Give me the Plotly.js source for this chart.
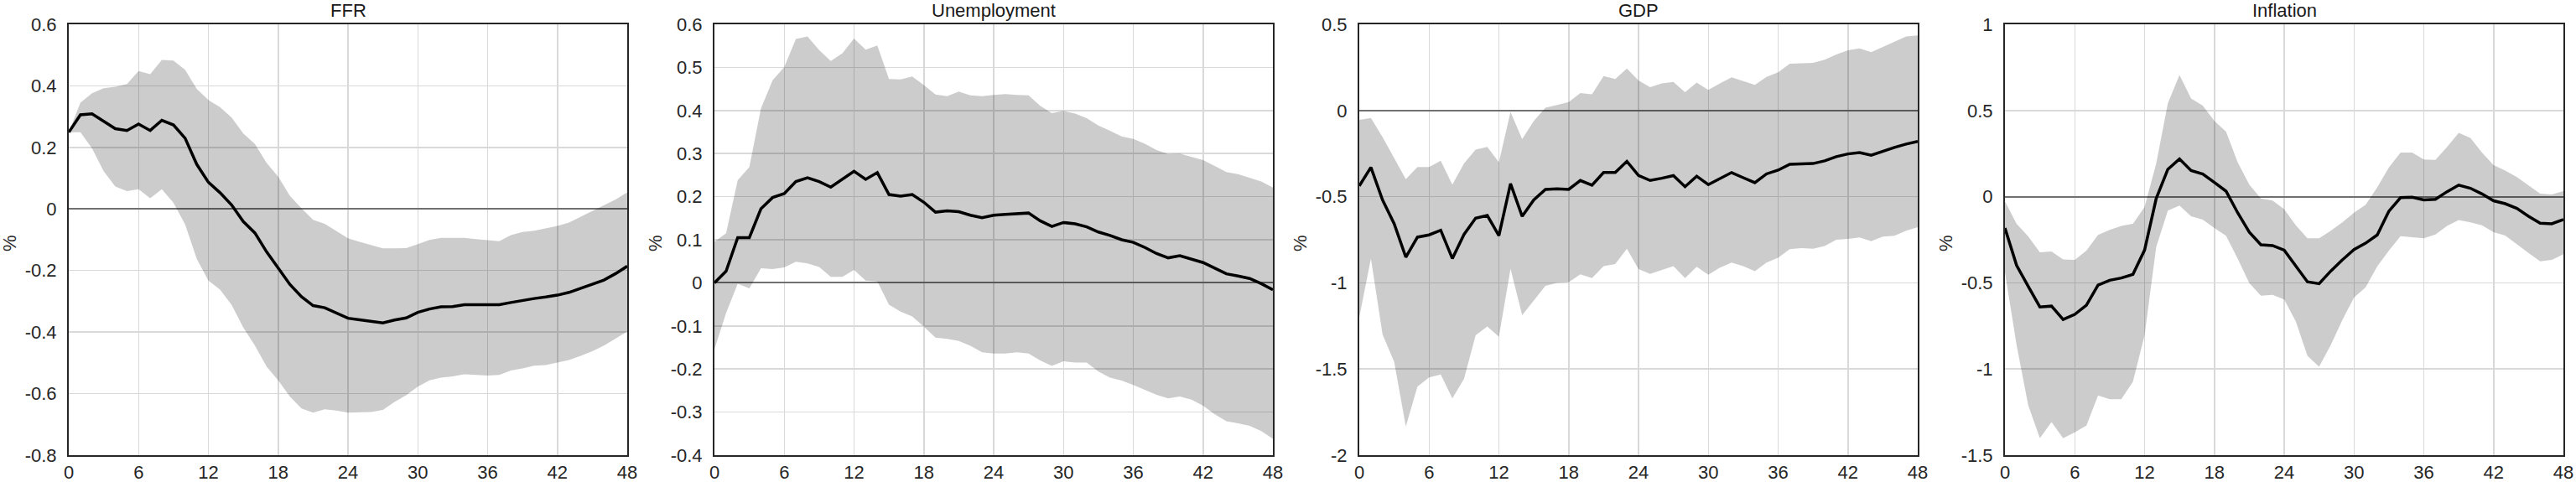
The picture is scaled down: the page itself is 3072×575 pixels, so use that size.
<!DOCTYPE html>
<html>
<head>
<meta charset="utf-8">
<script src="https://cdn.plot.ly/plotly-3.0.1.min.js"></script>
<style>html,body{margin:0;padding:0;background:#fff;}#chart{width:3072px;height:575px;}</style>
</head>
<body>
<div id="chart"></div>
<script>
// Horizon (months)
const months = Array.from({length: 49}, (_, i) => i);
const xTickVals = [0, 6, 12, 18, 24, 30, 36, 42, 48];
const xTickText = ["0", "6", "12", "18", "24", "30", "36", "42", "48"];

const panelTitles = ["FFR", "Unemployment", "GDP", "Inflation"];
const yLabel = "%";

// FFR
const ffrMean = [0.249,0.306,0.309,0.285,0.261,0.255,0.276,0.255,0.288,0.273,0.230,0.145,0.087,0.053,0.013,-0.041,-0.078,-0.139,-0.194,-0.245,-0.285,-0.314,-0.321,-0.339,-0.355,-0.360,-0.365,-0.370,-0.361,-0.354,-0.336,-0.325,-0.318,-0.317,-0.311,-0.311,-0.312,-0.311,-0.304,-0.297,-0.291,-0.286,-0.280,-0.271,-0.258,-0.246,-0.231,-0.210,-0.186];
const ffrUpper = [0.249,0.345,0.376,0.392,0.397,0.406,0.448,0.438,0.484,0.482,0.452,0.390,0.354,0.331,0.297,0.245,0.211,0.150,0.105,0.043,0.002,-0.035,-0.048,-0.071,-0.095,-0.107,-0.117,-0.128,-0.128,-0.127,-0.114,-0.101,-0.094,-0.094,-0.094,-0.098,-0.101,-0.105,-0.085,-0.075,-0.071,-0.064,-0.055,-0.044,-0.025,-0.007,0.013,0.031,0.054];
const ffrLower = [0.249,0.249,0.197,0.123,0.073,0.058,0.064,0.035,0.064,0.020,-0.050,-0.162,-0.233,-0.262,-0.312,-0.385,-0.444,-0.512,-0.557,-0.609,-0.648,-0.662,-0.651,-0.655,-0.662,-0.662,-0.660,-0.653,-0.627,-0.605,-0.577,-0.557,-0.548,-0.544,-0.537,-0.539,-0.541,-0.539,-0.525,-0.518,-0.509,-0.507,-0.500,-0.491,-0.477,-0.462,-0.444,-0.421,-0.398];

// Unemployment
const unMean = [0.000,0.027,0.105,0.105,0.172,0.198,0.207,0.235,0.244,0.235,0.222,0.240,0.259,0.240,0.256,0.205,0.201,0.205,0.187,0.164,0.167,0.165,0.157,0.151,0.157,0.159,0.161,0.162,0.144,0.131,0.140,0.137,0.130,0.118,0.110,0.100,0.094,0.082,0.068,0.058,0.063,0.055,0.047,0.034,0.021,0.016,0.010,-0.002,-0.016];
const unUpper = [0.095,0.115,0.238,0.269,0.405,0.470,0.501,0.566,0.572,0.540,0.515,0.533,0.567,0.541,0.551,0.473,0.472,0.479,0.459,0.437,0.433,0.444,0.435,0.433,0.436,0.438,0.436,0.435,0.411,0.394,0.399,0.393,0.382,0.365,0.353,0.340,0.334,0.323,0.308,0.299,0.300,0.293,0.285,0.271,0.257,0.252,0.244,0.235,0.221];
const unLower = [-0.154,-0.070,-0.002,-0.013,0.034,0.032,0.036,0.049,0.045,0.037,0.014,0.014,0.030,0.005,0.003,-0.051,-0.067,-0.078,-0.102,-0.127,-0.130,-0.135,-0.146,-0.161,-0.164,-0.164,-0.161,-0.164,-0.180,-0.193,-0.182,-0.185,-0.185,-0.206,-0.220,-0.227,-0.237,-0.248,-0.260,-0.268,-0.264,-0.271,-0.285,-0.305,-0.321,-0.326,-0.332,-0.344,-0.362];

// GDP
const gdpMean = [-0.438,-0.330,-0.519,-0.657,-0.851,-0.735,-0.722,-0.695,-0.859,-0.719,-0.625,-0.609,-0.726,-0.425,-0.614,-0.519,-0.458,-0.455,-0.458,-0.406,-0.433,-0.360,-0.360,-0.295,-0.377,-0.406,-0.393,-0.378,-0.442,-0.381,-0.430,-0.393,-0.360,-0.390,-0.419,-0.368,-0.346,-0.312,-0.308,-0.308,-0.292,-0.268,-0.252,-0.244,-0.260,-0.235,-0.214,-0.195,-0.179];
const gdpUpper = [-0.054,-0.044,-0.154,-0.273,-0.398,-0.328,-0.328,-0.292,-0.430,-0.308,-0.227,-0.211,-0.300,-0.008,-0.166,-0.060,0.016,0.032,0.049,0.101,0.094,0.200,0.183,0.244,0.174,0.135,0.157,0.166,0.106,0.162,0.119,0.157,0.192,0.170,0.149,0.195,0.222,0.271,0.273,0.276,0.295,0.325,0.349,0.360,0.338,0.369,0.398,0.430,0.435];
const gdpLower = [-1.200,-0.859,-1.300,-1.459,-1.833,-1.602,-1.549,-1.532,-1.670,-1.557,-1.305,-1.253,-1.313,-0.919,-1.188,-1.102,-1.018,-1.000,-0.997,-0.951,-0.972,-0.903,-0.891,-0.802,-0.920,-0.948,-0.924,-0.903,-0.972,-0.907,-0.953,-0.912,-0.883,-0.903,-0.932,-0.883,-0.854,-0.805,-0.799,-0.802,-0.786,-0.750,-0.745,-0.737,-0.758,-0.732,-0.727,-0.698,-0.677];

// Inflation
const infMean = [-0.182,-0.399,-0.521,-0.640,-0.635,-0.713,-0.683,-0.630,-0.513,-0.485,-0.472,-0.451,-0.310,-0.011,0.159,0.219,0.151,0.131,0.083,0.032,-0.093,-0.206,-0.279,-0.284,-0.310,-0.399,-0.494,-0.505,-0.432,-0.367,-0.307,-0.270,-0.222,-0.084,-0.006,-0.003,-0.019,-0.015,0.029,0.067,0.049,0.016,-0.024,-0.041,-0.068,-0.114,-0.154,-0.157,-0.133];
const infUpper = [-0.028,-0.157,-0.230,-0.323,-0.318,-0.364,-0.367,-0.313,-0.222,-0.193,-0.170,-0.157,-0.060,0.192,0.541,0.706,0.570,0.528,0.440,0.378,0.200,0.070,-0.011,-0.023,-0.073,-0.166,-0.242,-0.242,-0.198,-0.149,-0.093,-0.047,0.054,0.170,0.256,0.256,0.216,0.213,0.289,0.370,0.341,0.256,0.183,0.151,0.114,0.067,0.018,0.013,0.032];
const infLower = [-0.440,-0.862,-1.211,-1.401,-1.308,-1.401,-1.368,-1.328,-1.154,-1.175,-1.175,-1.073,-0.805,-0.292,-0.081,-0.052,-0.114,-0.133,-0.182,-0.227,-0.359,-0.502,-0.575,-0.570,-0.597,-0.724,-0.924,-0.987,-0.862,-0.716,-0.586,-0.526,-0.404,-0.313,-0.229,-0.235,-0.242,-0.219,-0.170,-0.136,-0.149,-0.166,-0.206,-0.226,-0.278,-0.326,-0.375,-0.367,-0.334];

// Y axis ticks
const ffrTickVals = [-0.8,-0.6,-0.4,-0.2,0,0.2,0.4,0.6];
const ffrTickText = ["-0.8","-0.6","-0.4","-0.2","0","0.2","0.4","0.6"];
const unTickVals = [-0.4,-0.3,-0.2,-0.1,0,0.1,0.2,0.3,0.4,0.5,0.6];
const unTickText = ["-0.4","-0.3","-0.2","-0.1","0","0.1","0.2","0.3","0.4","0.5","0.6"];
const gdpTickVals = [-2,-1.5,-1,-0.5,0,0.5];
const gdpTickText = ["-2","-1.5","-1","-0.5","0","0.5"];
const infTickVals = [-1.5,-1,-0.5,0,0.5,1];
const infTickText = ["-1.5","-1","-0.5","0","0.5","1"];

const panels = [
  {mean: ffrMean, upper: ffrUpper, lower: ffrLower, tv: ffrTickVals, tt: ffrTickText},
  {mean: unMean, upper: unUpper, lower: unLower, tv: unTickVals, tt: unTickText},
  {mean: gdpMean, upper: gdpUpper, lower: gdpLower, tv: gdpTickVals, tt: gdpTickText},
  {mean: infMean, upper: infUpper, lower: infLower, tv: infTickVals, tt: infTickText}
];

const W = 3072, H = 575;
const plotLefts = [82, 852, 1621, 2391];
const plotWidth = 666;
const plotTop = 29, plotBottom = 543;

const FONT = "Liberation Sans, Arial, sans-serif";
const traces = [];
const layout = {
  width: W, height: H,
  margin: {l: 0, r: 0, t: 0, b: 0, pad: 0},
  paper_bgcolor: "#ffffff",
  plot_bgcolor: "#ffffff",
  showlegend: false,
  hovermode: false,
  font: {family: FONT, size: 22, color: "#262626"},
  annotations: []
};

panels.forEach((p, i) => {
  const n = i + 1;
  const xa = n === 1 ? "x" : "x" + n;
  const ya = n === 1 ? "y" : "y" + n;
  traces.push({x: months, y: p.lower, xaxis: xa, yaxis: ya, type: "scatter", mode: "lines",
    line: {width: 0, color: "rgba(0,0,0,0)"}, hoverinfo: "skip"});
  traces.push({x: months, y: p.upper, xaxis: xa, yaxis: ya, type: "scatter", mode: "lines",
    fill: "tonexty", fillcolor: "rgba(0,0,0,0.2)", line: {width: 0, color: "rgba(0,0,0,0)"}, hoverinfo: "skip"});
  traces.push({x: months, y: p.mean, xaxis: xa, yaxis: ya, type: "scatter", mode: "lines",
    line: {width: 3.5, color: "#000000"}, hoverinfo: "skip"});

  const x0 = plotLefts[i] / W, x1 = (plotLefts[i] + plotWidth) / W;
  const xKey = n === 1 ? "xaxis" : "xaxis" + n;
  const yKey = n === 1 ? "yaxis" : "yaxis" + n;
  layout[xKey] = {
    domain: [x0, x1], anchor: ya, range: [0, 48],
    tickmode: "array", tickvals: xTickVals, ticktext: xTickText,
    showgrid: true, gridcolor: "#d9d9d9", gridwidth: 1.5,
    zeroline: false, showline: true, mirror: true, linecolor: "#262626", linewidth: 2,
    ticks: "", ticklabelstandoff: 0,
    tickfont: {family: FONT, size: 22, color: "#262626"}, fixedrange: true
  };
  const tv = p.tv;
  layout[yKey] = {
    domain: [1 - plotBottom / H, 1 - plotTop / H], anchor: xa,
    range: [tv[0], tv[tv.length - 1]],
    tickmode: "array", tickvals: p.tv, ticktext: p.tt,
    showgrid: true, gridcolor: "#d9d9d9", gridwidth: 1.5,
    zeroline: true, zerolinecolor: "#707070", zerolinewidth: 2,
    showline: true, mirror: true, linecolor: "#262626", linewidth: 2,
    ticks: "", ticklabelstandoff: 8,
    tickfont: {family: FONT, size: 22, color: "#262626"}, fixedrange: true
  };
  layout.annotations.push({
    text: panelTitles[i], xref: "paper", yref: "paper",
    x: (plotLefts[i] + plotWidth / 2) / W, y: 1 - 12 / H,
    xanchor: "center", yanchor: "middle", showarrow: false,
    font: {family: FONT, size: 22, color: "#1a1a1a"}
  });
  layout.annotations.push({
    text: yLabel, xref: "paper", yref: "paper",
    x: (plotLefts[i] - 71) / W, y: 1 - 290 / H,
    xanchor: "center", yanchor: "middle", textangle: -90, showarrow: false,
    font: {family: FONT, size: 22, color: "#262626"}
  });
});

Plotly.newPlot("chart", traces, layout, {displayModeBar: false, staticPlot: true});
</script>
</body>
</html>
